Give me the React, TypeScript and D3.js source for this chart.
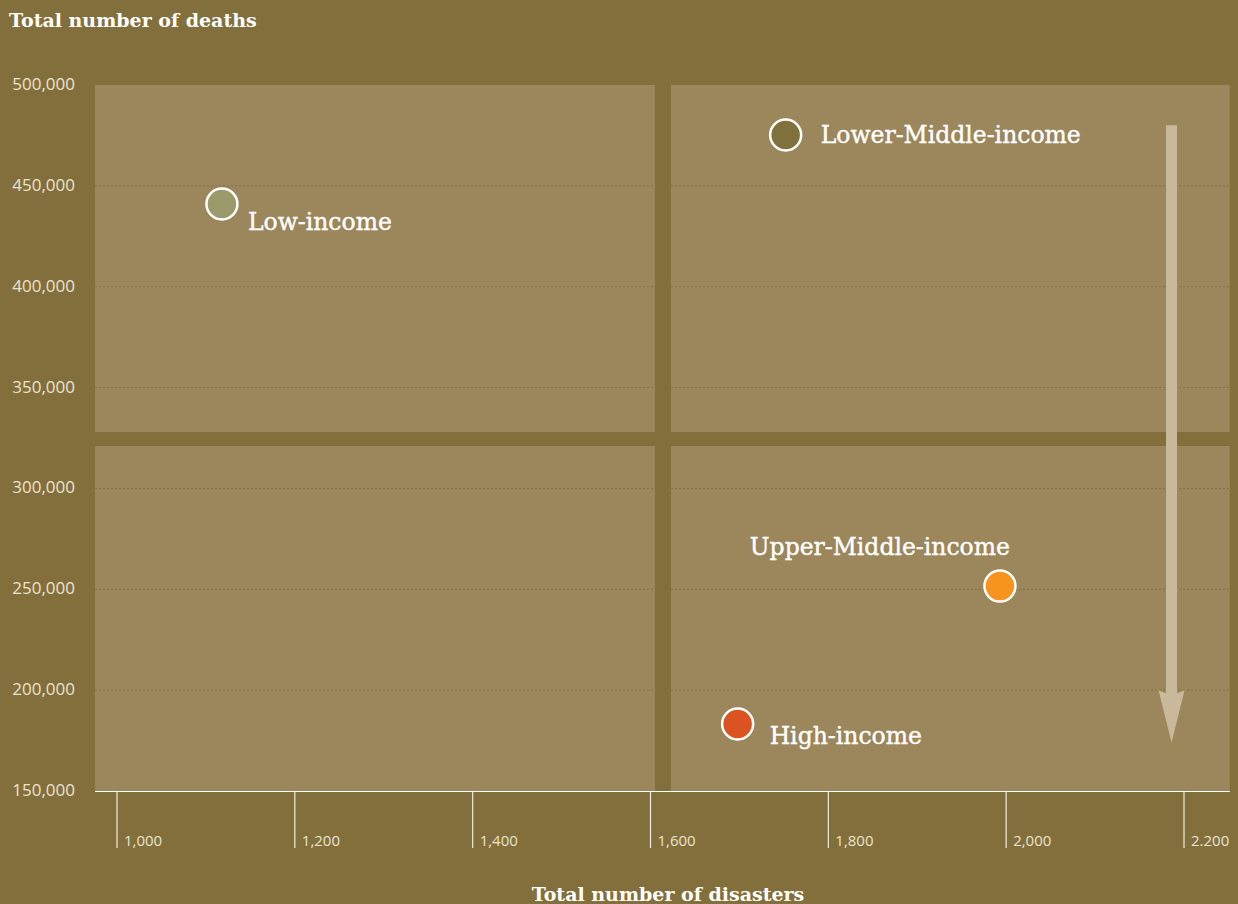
import React from "react";
import * as d3 from "d3";

const groups = ["Low-income", "Lower-Middle-income", "Upper-Middle-income", "High-income"];
const disasters = [1118, 1752, 1993, 1698];
const deaths = [441000, 475200, 251600, 183200];
const colors = ["#9a9a6a", "#80703c", "#f7941e", "#dc5322"];
const labelAnchor = ["start", "start", "end", "start"];
const xTicks = [1000, 1200, 1400, 1600, 1800, 2000, 2200];
const xTickLabels = ["1,000", "1,200", "1,400", "1,600", "1,800", "2,000", "2.200"];
const yTicks = [150000, 200000, 250000, 300000, 350000, 400000, 450000, 500000];
const xSplit = 1614;
const ySplit = 324500;

const W = 1238, H = 904;

export default function App() {
  const x = d3.scaleLinear().domain([1000, 2200]).range([117, 1184]);
  const y = d3.scaleLinear().domain([150000, 500000]).range([791, 85]);
  const left = x(975.3), right = x(2251.5), top = y(500000), bottom = y(150000);
  const gap = 8;
  const xs = x(xSplit), ys = y(ySplit);
  const panels = [
    [left, top, xs - gap, ys - 7],
    [xs + gap, top, right, ys - 7],
    [left, ys + 7, xs - gap, bottom],
    [xs + gap, ys + 7, right, bottom],
  ];
  const fmt = d3.format(",");
  const labelOffsets = [[26, 26], [35, 8], [10, -31], [32, 20]];
  const arrowX = x(2186);
  const arrowTop = y(480000), arrowHeadTop = y(198500), arrowTip = y(174000);
  return (
    <svg width={W} height={H} style={{ position: "absolute", left: 0, top: 0, display: "block" }}>
      <rect x={0} y={0} width={W} height={H} fill="#826f3c" />
      {panels.map((p, i) => (
        <rect key={i} x={p[0]} y={p[1]} width={p[2] - p[0]} height={p[3] - p[1]} fill="#9c875d" />
      ))}
      {yTicks.slice(1, -1).map((t) => (
        <line key={t} x1={left} x2={right} y1={y(t)} y2={y(t)} stroke="#85713f" strokeWidth={1} strokeDasharray="2,2" />
      ))}
      {yTicks.map((t) => (
        <text key={t} x={75} y={y(t) + 5} textAnchor="end" fontFamily="Open Sans" fontSize={17} fill="#ebe3cf">{fmt(t)}</text>
      ))}
      <line x1={left} x2={right} y1={bottom + 0.5} y2={bottom + 0.5} stroke="#ffffff" strokeWidth={1.2} />
      {xTicks.map((t, i) => (
        <g key={t}>
          <line x1={x(t)} x2={x(t)} y1={bottom} y2={848} stroke="#f2ece0" strokeWidth={1.2} />
          <text x={x(t) + 7} y={846} fontFamily="Open Sans" fontSize={15} fill="#ebe3cf">{xTickLabels[i]}</text>
        </g>
      ))}
      <polygon
        points={`${arrowX - 5.5},${arrowTop} ${arrowX + 5.5},${arrowTop} ${arrowX + 5.5},${arrowHeadTop} ${arrowX + 13},${arrowHeadTop - 3} ${arrowX},${arrowTip} ${arrowX - 13},${arrowHeadTop - 3} ${arrowX - 5.5},${arrowHeadTop}`}
        fill="#c9b99a"
      />
      {groups.map((g, i) => (
        <g key={g}>
          <circle cx={x(disasters[i])} cy={y(deaths[i])} r={15.5} fill={colors[i]} stroke="#ffffff" strokeWidth={2.5} />
          <text
            x={x(disasters[i]) + labelOffsets[i][0]}
            y={y(deaths[i]) + labelOffsets[i][1]}
            textAnchor={labelAnchor[i]}
            fontFamily="DejaVu Serif"
            fontSize={23.5}
            fill="#ffffff"
            stroke="#ffffff"
            strokeWidth={0.4}
          >{g}</text>
        </g>
      ))}
      <text x={9} y={27} fontFamily="DejaVu Serif" fontSize={19} fontWeight="bold" fill="#ffffff">Total number of deaths</text>
      <text x={668} y={901} textAnchor="middle" fontFamily="DejaVu Serif" fontSize={19} fontWeight="bold" fill="#ffffff">Total number of disasters</text>
    </svg>
  );
}
